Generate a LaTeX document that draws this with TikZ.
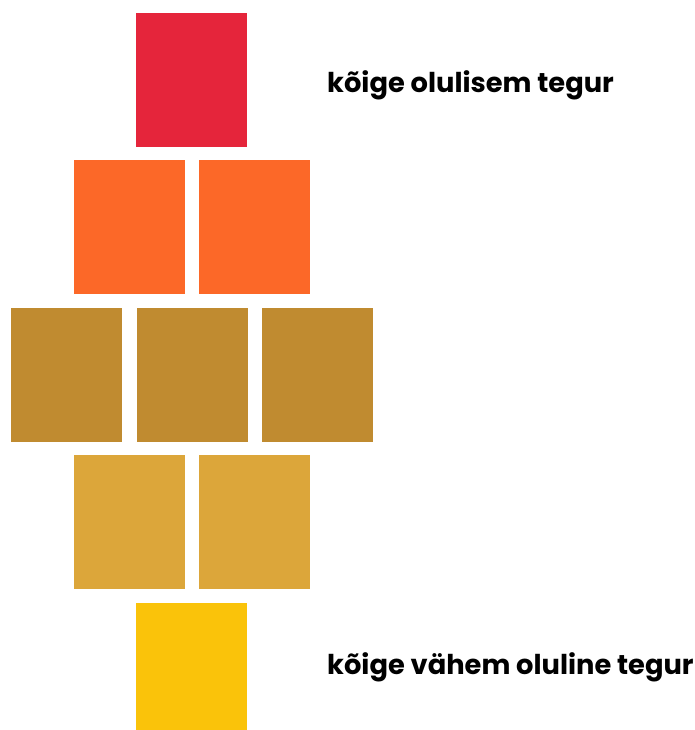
\documentclass[tikz,border=0pt]{standalone}
\usepackage{fontspec}
\setmainfont{Poppins}
\definecolor{cred}{RGB}{229,37,59}
\definecolor{corange}{RGB}{252,104,40}
\definecolor{cbrown}{RGB}{192,139,48}
\definecolor{cochre}{RGB}{220,166,58}
\definecolor{cyellow}{RGB}{250,195,10}
\begin{document}
\begin{tikzpicture}[x=1pt,y=-1pt,
  blk/.style={anchor=north west,inner sep=0pt,outer sep=0pt,minimum width=111pt,minimum height=134pt},
  lbl/.style={anchor=base west,inner sep=0pt,font=\fontsize{27.3}{30}\selectfont\bfseries}]
\useasboundingbox (0,0) rectangle (695,730);
\node[blk,fill=cred] (r1) at (136,13) {};
\node[blk,fill=corange] (r2a) at (74,160) {};
\node[blk,fill=corange] (r2b) at (199,160) {};
\node[blk,fill=cbrown] (r3a) at (11,308) {};
\node[blk,fill=cbrown] (r3b) at (137,308) {};
\node[blk,fill=cbrown] (r3c) at (262,308) {};
\node[blk,fill=cochre] (r4a) at (74,455) {};
\node[blk,fill=cochre] (r4b) at (199,455) {};
\node[blk,fill=cyellow,minimum height=127pt] (r5) at (136,603) {};
\node[lbl] (top) at (327,93) {kõige olulisem tegur};
\node[lbl] (bot) at (327,674) {kõige vähem oluline tegur};
\end{tikzpicture}
\end{document}
